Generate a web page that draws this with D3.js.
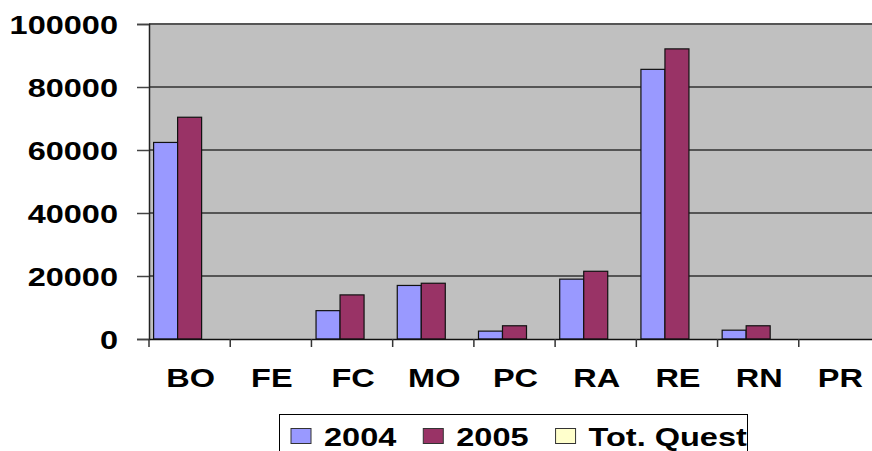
<!DOCTYPE html>
<html>
<head>
<meta charset="utf-8">
<script src="https://cdn.jsdelivr.net/npm/d3@7"></script>
<style>
  body { margin: 0; background: #fff; }
  text { font-family: "Liberation Sans", Arial, sans-serif; font-weight: bold; fill: #000; }
</style>
</head>
<body>
<div id="chart"></div>
<script>
// chart data
var categories = ["BO", "FE", "FC", "MO", "PC", "RA", "RE", "RN", "PR"];
var seriesNames = ["2004", "2005", "Tot. Quest"];
var values2004 = [62400, 0, 9000, 17000, 2500, 19000, 85600, 2800, 0];
var values2005 = [70400, 0, 14000, 17700, 4200, 21500, 92100, 4200, 0];
var valuesTot = [0, 0, 0, 0, 0, 0, 0, 0, 0];
var yTicks = [0, 20000, 40000, 60000, 80000, 100000];
var colors = ["#9999FF", "#993366", "#FFFFCC"];

var width = 872, height = 451
var plotLeft = 149, plotTop = 24, plotBottom = 339, plotRight = 880
var sx = 1.3 // the reference text is stretched sideways
var fontSize = "25px"

var svg = d3.select("#chart").append("svg")
    .attr("width", width)
    .attr("height", height)

var x = d3.scaleBand().domain(categories).range([plotLeft, plotRight])
var x1 = d3.scaleBand().domain(seriesNames).range([4.6, x.bandwidth() - 4.6])
var y = d3.scaleLinear().domain([0, 100000]).range([plotBottom, plotTop])
var color = d3.scaleOrdinal().domain(seriesNames).range(colors)

// plot background
svg.append("rect")
    .attr("x", plotLeft).attr("y", plotTop)
    .attr("width", plotRight - plotLeft).attr("height", plotBottom - plotTop)
    .attr("fill", "#C0C0C0")

// gridlines
svg.selectAll(".grid").data(yTicks.filter(function(d) { return d > 0; }))
  .enter().append("line")
    .attr("x1", plotLeft).attr("x2", plotRight)
    .attr("y1", function(d) { return y(d); })
    .attr("y2", function(d) { return y(d); })
    .attr("stroke", "#555")
    .attr("stroke-width", 2)

// bars
var rows = categories.map(function(c, i) {
    return {cat: c, vals: [values2004[i], values2005[i], valuesTot[i]]};
});
var groups = svg.selectAll(".grp").data(rows).enter().append("g")
    .attr("transform", function(d) { return "translate(" + x(d.cat) + ",0)"; })
groups.selectAll("rect")
    .data(function(d) {
        return d.vals.map(function(v, i) { return {name: seriesNames[i], value: v}; })
            .filter(function(d) { return d.value > 0; });
    })
  .enter().append("rect")
    .attr("x", function(d) { return x1(d.name); })
    .attr("width", x1.bandwidth())
    .attr("y", function(d) { return y(d.value); })
    .attr("height", function(d) { return plotBottom - y(d.value); })
    .attr("fill", function(d) { return color(d.name); })
    .attr("stroke", "#111")
    .attr("stroke-width", 1.2)

// y axis
var yAxis = svg.append("g")
    .attr("transform", "translate(" + plotLeft + ",0)")
    .call(d3.axisLeft(y).tickValues(yTicks).tickSize(12).tickPadding(0).tickFormat(d3.format("d")))
yAxis.select(".domain").attr("stroke", "#222").attr("stroke-width", 1.5)
yAxis.selectAll(".tick line").attr("stroke", "#444").attr("stroke-width", 1.5)
yAxis.selectAll(".tick text")
    .attr("x", null).attr("dy", null)
    .attr("transform", "translate(-31,9) scale(" + sx + ",1)")
    .style("font-size", fontSize)
    .attr("text-anchor", "end")

// x axis
var xAxis = svg.append("g")
    .attr("transform", "translate(0," + plotBottom + ")")
    .call(d3.axisBottom(x).tickSize(0).tickPadding(0))
xAxis.select(".domain").attr("stroke", "#111").attr("stroke-width", 1.5)
xAxis.selectAll(".tick text")
    .attr("y", null).attr("dy", null)
    .attr("transform", "translate(1,48) scale(" + sx + ",1)")
    .style("font-size", fontSize)
// category separators
xAxis.selectAll(".sep").data(categories)
  .enter().append("line")
    .attr("x1", function(d) { return x(d); })
    .attr("x2", function(d) { return x(d); })
    .attr("y1", 0).attr("y2", 8)
    .attr("stroke", "#333").attr("stroke-width", 1.5)

// legend
svg.append("rect")
    .attr("x", 279.5).attr("y", 414.5)
    .attr("width", 468).attr("height", 50)
    .attr("fill", "#fff").attr("stroke", "#000")
var legend = svg.append("g")
var lx = 291
seriesNames.forEach(function(name) {
    legend.append("rect")
        .attr("x", lx).attr("y", 428.5)
        .attr("width", 20).attr("height", 15)
        .attr("fill", color(name))
        .attr("stroke", "#333")
    lx += 33
    var t = legend.append("text")
        .attr("transform", "translate(" + lx + ",446) scale(" + sx + ",1)")
        .style("font-size", fontSize)
        .text(name)
    lx += t.node().getComputedTextLength() * sx + 27
})
</script>
</body>
</html>
